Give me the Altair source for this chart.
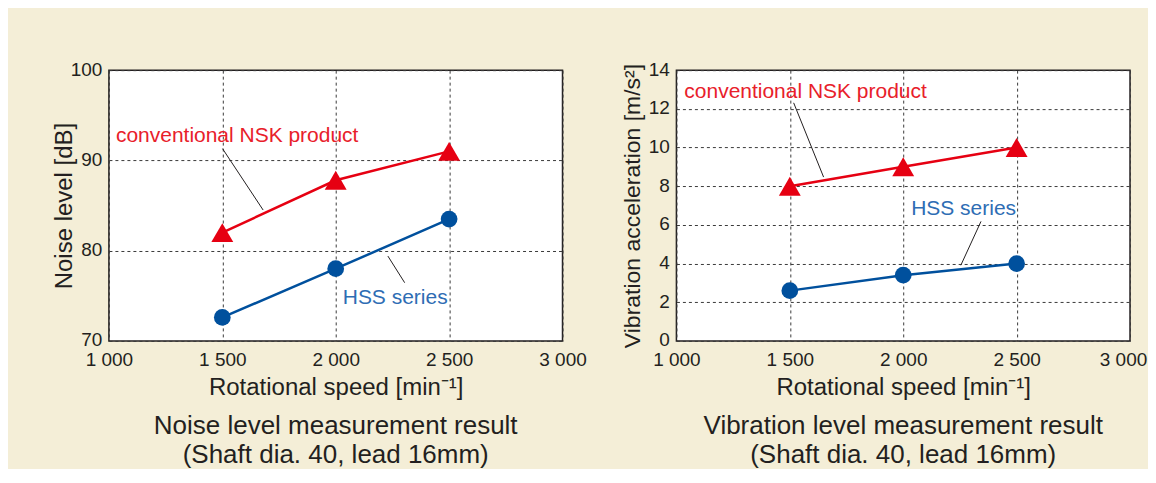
import altair as alt
import pandas as pd

# ---- data ----
speeds = [1500, 2000, 2500]
series_names = ["conventional NSK product", "HSS series"]

noise_conventional = [82.0, 87.8, 91.0]
noise_hss = [72.6, 78.0, 83.5]

vib_conventional = [8.0, 9.0, 10.0]
vib_hss = [2.6, 3.4, 4.0]

x_ticks = [1000, 1500, 2000, 2500, 3000]
noise_ticks = [70, 80, 90, 100]
vib_ticks = [0, 2, 4, 6, 8, 10, 12, 14]

# annotation label anchors (data coordinates) and leader lines
noise_label_x = [1031, 2031]
noise_label_y = [92.0, 74.1]
noise_leader_x = [1501, 2230]
noise_leader_y = [91.3, 79.4]
noise_leader_x2 = [1680, 2304]
noise_leader_y2 = [84.5, 76.45]

vib_label_x = [1035, 2035]
vib_label_y = [12.57, 6.52]
vib_leader_x = [1517, 2343]
vib_leader_y = [12.31, 6.18]
vib_leader_x2 = [1649, 2254]
vib_leader_y2 = [8.47, 3.91]

noise_caption = ["Noise level measurement result", "(Shaft dia. 40, lead 16mm)"]
vib_caption = ["Vibration level measurement result", "(Shaft dia. 40, lead 16mm)"]

FONT = "Liberation Sans"
INK = "#231F20"
RED = "#E60012"
BLUE = "#00509D"
RED_TXT = "#E8202A"
BLUE_TXT = "#2E6DB4"
BG = "#F4EED7"


def panel(conv, hss, ydom, yticks, ytitle, ytitle_size,
          lab_x, lab_y, ld_x, ld_y, ld_x2, ld_y2, caption, last_label_shift):
    df = pd.DataFrame({
        "speed": speeds * 2,
        "value": conv + hss,
        "series": [series_names[0]] * len(speeds) + [series_names[1]] * len(speeds),
    })
    ann = pd.DataFrame({"speed": lab_x, "value": lab_y, "text": series_names})
    lead = pd.DataFrame({"speed": ld_x, "value": ld_y, "speed2": ld_x2, "value2": ld_y2})

    xenc = alt.X(
        "speed:Q",
        scale=alt.Scale(domain=[1000, 3000], nice=False, zero=False),
        axis=alt.Axis(
            values=x_ticks,
            title="Rotational speed [min⁻¹]",
            labelExpr="replace(format(datum.value, ','), ',', ' ')",
            labelFlush=False,
            labelOffset={"condition": {"test": "datum.value == 3000",
                                       "value": last_label_shift},
                         "value": 0},
            labelPadding=10,
            titlePadding=6,
        ),
    )
    yenc = alt.Y(
        "value:Q",
        scale=alt.Scale(domain=ydom, nice=False, zero=False),
        axis=alt.Axis(
            values=yticks,
            title=ytitle,
            titleFontSize=ytitle_size,
            labelPadding=7,
            labelOffset=-1,
            labelFlush=False,
            titleAngle=270,
            titleX=-37,
            titleY=135.5,
            titleBaseline="alphabetic",
            titleAlign="center",
        ),
    )
    color = alt.Color("series:N",
                      scale=alt.Scale(domain=series_names, range=[RED, BLUE]),
                      legend=None)

    base = alt.Chart(df).encode(x=xenc, y=yenc, color=color)
    line = base.mark_line(strokeWidth=2.5)
    tri = base.transform_filter(alt.datum.series == series_names[0]).mark_point(
        shape="triangle-up", filled=True, size=480, opacity=1)
    circ = base.transform_filter(alt.datum.series == series_names[1]).mark_point(
        shape="circle", filled=True, size=280, opacity=1)

    leaders = alt.Chart(lead).mark_rule(color=INK, strokeWidth=1).encode(
        x=xenc, y=yenc, x2="speed2:Q", y2="value2:Q")

    txt_base = alt.Chart(ann).encode(x=xenc, y=yenc, text="text:N")
    txt_red = txt_base.transform_filter(alt.datum.text == series_names[0]).mark_text(
        align="left", baseline="alphabetic", fontSize=21, font=FONT, color=RED_TXT)
    txt_blue = txt_base.transform_filter(alt.datum.text == series_names[1]).mark_text(
        align="left", baseline="alphabetic", fontSize=21, font=FONT, color=BLUE_TXT)

    return alt.layer(line, leaders, tri, circ, txt_red, txt_blue).properties(
        width=454,
        height=271,
        title=alt.TitleParams(
            caption,
            orient="bottom",
            anchor="middle",
            frame="group",
            fontSize=26,
            fontWeight="normal",
            font=FONT,
            color=INK,
            lineHeight=29,
            offset=13,
        ),
    )


left = panel(noise_conventional, noise_hss, [70, 100], noise_ticks,
             "Noise level [dB]", 24,
             noise_label_x, noise_label_y, noise_leader_x, noise_leader_y,
             noise_leader_x2, noise_leader_y2, noise_caption, 0)
right = panel(vib_conventional, vib_hss, [0, 14], vib_ticks,
              "Vibration acceleration [m/s²]", 23,
              vib_label_x, vib_label_y, vib_leader_x, vib_leader_y,
              vib_leader_x2, vib_leader_y2, vib_caption, -7)

chart = alt.hconcat(
    left, right,
    spacing=114,
    bounds="flush",
    background=BG,
    padding={"left": 44, "top": 51, "right": 0, "bottom": 0},
).configure_axis(
    labelFont=FONT,
    labelFontSize=19,
    labelColor=INK,
    titleFont=FONT,
    titleFontSize=24,
    titleFontWeight="normal",
    titleColor=INK,
    ticks=False,
    domain=False,
    gridColor="#3a3a3a",
    gridDash=[3, 3],
    gridWidth=1,
    gridOpacity=1,
).configure_view(
    stroke=INK,
    strokeWidth=1.5,
    fill="white",
)

chart.save("out.html", embed_options={"renderer": "svg", "actions": False})
